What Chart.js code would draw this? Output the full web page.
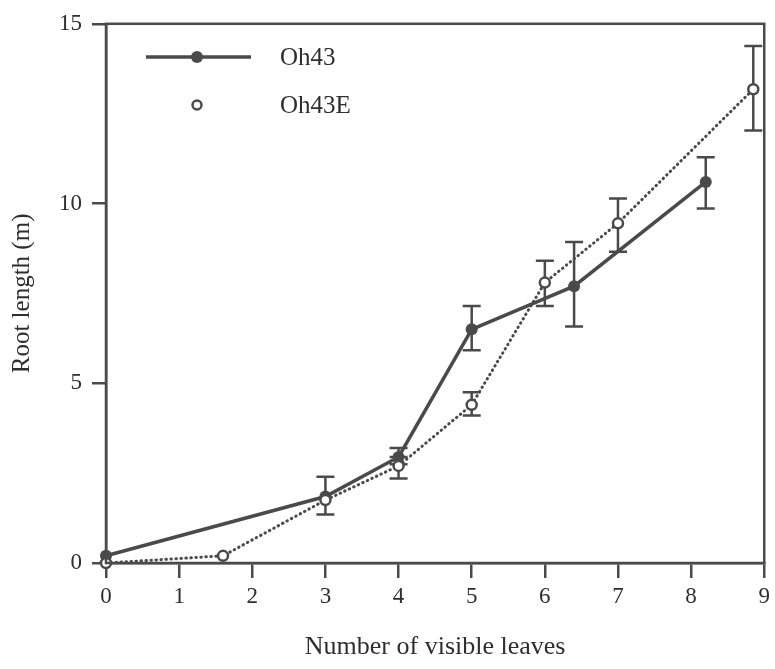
<!DOCTYPE html>
<html>
<head>
<meta charset="utf-8">
<script src="https://cdn.jsdelivr.net/npm/chart.js@4/dist/chart.umd.min.js"></script>
<style>
  body { margin: 0; background: #fff; }
  canvas { display: block; }
</style>
</head>
<body>
<canvas id="roots" width="775" height="669"></canvas>
<script>
// Oh43 (filled, solid line)
const leaves43 = [0, 3, 4, 5, 6.4, 8.2];
const root43 = [0.2, 1.85, 2.95, 6.5, 7.7, 10.6];
const low43 = [null, 1.35, 2.75, 5.92, 6.58, 9.86];
const high43 = [null, 2.4, 3.2, 7.15, 8.93, 11.29];

// Oh43E (open, dotted line)
const leaves43E = [0, 1.6, 3, 4, 5, 6, 7, 8.85];
const root43E = [0, 0.2, 1.75, 2.7, 4.4, 7.8, 9.45, 13.18];
const low43E = [null, null, null, 2.35, 4.1, 7.15, 8.66, 12.03];
const high43E = [null, null, null, 2.95, 4.75, 8.41, 10.14, 14.38];

const xTicks = [0, 1, 2, 3, 4, 5, 6, 7, 8, 9];
const yTicks = [0, 5, 10, 15];

const ink = '#4a4a4a';
const textInk = '#2e2e2e';
const serif = '"Liberation Serif", "DejaVu Serif", serif';

function points(xs, ys, lo, hi) {
  return xs.map((x, i) => ({ x: x, y: ys[i], lo: lo[i], hi: hi[i] }));
}

// vertical error bars with caps, drawn under the markers
const errorBars = {
  id: 'errorBars',
  beforeDatasetsDraw(chart) {
    const ctx = chart.ctx;
    const xs = chart.scales.x, ys = chart.scales.y;
    ctx.save();
    ctx.strokeStyle = ink;
    ctx.lineWidth = 2.5;
    chart.data.datasets.forEach(ds => {
      ds.data.forEach(p => {
        if (p.lo == null) return;
        const px = xs.getPixelForValue(p.x);
        const top = ys.getPixelForValue(p.hi);
        const bot = ys.getPixelForValue(p.lo);
        ctx.beginPath();
        ctx.moveTo(px, top); ctx.lineTo(px, bot);
        ctx.moveTo(px - 9, top); ctx.lineTo(px + 9, top);
        ctx.moveTo(px - 9, bot); ctx.lineTo(px + 9, bot);
        ctx.stroke();
      });
    });
    ctx.restore();
  }
};

// box around the plot plus the key in the upper left
const frameAndKey = {
  id: 'frameAndKey',
  afterDraw(chart) {
    const ctx = chart.ctx;
    const a = chart.chartArea;
    ctx.save();
    ctx.strokeStyle = ink;
    ctx.lineWidth = 2.5;
    ctx.strokeRect(a.left, a.top, a.right - a.left, a.bottom - a.top);

    ctx.lineWidth = 3.5;
    ctx.beginPath();
    ctx.moveTo(146, 57); ctx.lineTo(251, 57);
    ctx.stroke();
    ctx.fillStyle = ink;
    ctx.beginPath();
    ctx.arc(197, 57, 6, 0, Math.PI * 2);
    ctx.fill();

    ctx.lineWidth = 2.5;
    ctx.fillStyle = '#fff';
    ctx.beginPath();
    ctx.arc(197, 105, 4.5, 0, Math.PI * 2);
    ctx.fill();
    ctx.stroke();

    ctx.fillStyle = textInk;
    ctx.font = '25px ' + serif;
    ctx.textBaseline = 'middle';
    ctx.fillText('Oh43', 280, 58);
    ctx.fillText('Oh43E', 280, 106);
    ctx.restore();
  }
};

new Chart(document.getElementById('roots'), {
  type: 'scatter',
  data: {
    // Oh43E goes first so the filled Oh43 markers are painted on top
    datasets: [
      {
        label: 'Oh43E',
        data: points(leaves43E, root43E, low43E, high43E),
        showLine: true,
        borderColor: ink,
        borderWidth: 3,
        borderDash: [0.5, 4.5],
        borderCapStyle: 'round',
        pointRadius: 5,
        pointBorderWidth: 2.5,
        pointBackgroundColor: '#fff',
        pointBorderColor: ink,
        clip: false
      },
      {
        label: 'Oh43',
        data: points(leaves43, root43, low43, high43),
        showLine: true,
        borderColor: ink,
        borderWidth: 3.5,
        pointRadius: 6,
        pointBorderWidth: 0,
        pointBackgroundColor: ink,
        clip: false
      }
    ]
  },
  options: {
    responsive: false,
    animation: false,
    layout: { padding: { top: 16, right: 2, left: 0, bottom: 0 } },
    plugins: { legend: { display: false }, tooltip: { enabled: false } },
    scales: {
      x: {
        type: 'linear',
        min: 0,
        max: 9,
        afterFit(s) { s.height = 106; },
        afterBuildTicks(s) { s.ticks = xTicks.map(v => ({ value: v })); },
        grid: { drawOnChartArea: false, tickLength: 15, color: ink, lineWidth: 2.5 },
        border: { color: ink, width: 2.5 },
        ticks: { color: textInk, font: { family: serif, size: 23 }, padding: 5 },
        title: {
          display: true,
          text: 'Number of visible leaves',
          color: textInk,
          font: { family: serif, size: 26 },
          padding: { top: 0, bottom: 6 }
        }
      },
      y: {
        type: 'linear',
        min: 0,
        max: 15,
        afterFit(s) { s.width = 106; },
        afterBuildTicks(s) { s.ticks = yTicks.map(v => ({ value: v })); },
        grid: { drawOnChartArea: false, tickLength: 14, color: ink, lineWidth: 2.5 },
        border: { color: ink, width: 2.5 },
        ticks: { color: textInk, font: { family: serif, size: 23 }, padding: 10 },
        title: {
          display: true,
          text: 'Root length (m)',
          color: textInk,
          font: { family: serif, size: 25 },
          padding: { top: 7, bottom: 0 }
        }
      }
    }
  },
  plugins: [errorBars, frameAndKey]
});
</script>
</body>
</html>
